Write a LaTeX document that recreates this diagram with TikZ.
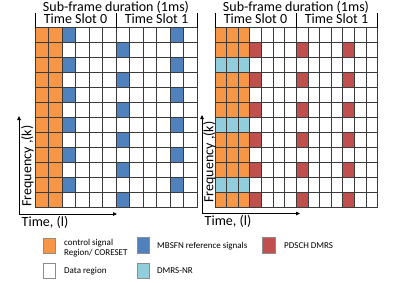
\documentclass[tikz,border=0pt]{standalone}
\usepackage{fontspec}
\setmainfont{Carlito}
\usetikzlibrary{arrows.meta}
\definecolor{corange}{HTML}{F79646}
\definecolor{cblue}{HTML}{4F81BD}
\definecolor{cred}{HTML}{C0504D}
\definecolor{clblue}{HTML}{92CDDC}
\definecolor{gridc}{HTML}{3A3A3A}
\tikzset{
  gridline/.style={draw=gridc,line width=0.7pt},
  headtxt/.style={inner sep=0pt,font=\fontsize{14}{16}\selectfont},
  axistxt/.style={inner sep=0pt,font=\fontsize{14}{16}\selectfont},
  legtxt/.style={inner sep=0pt,anchor=west,align=left,font=\fontsize{9}{10.5}\selectfont},
  legbox/.style={draw=black!45,line width=0.9pt},
  tickline/.style={draw=black,line width=0.8pt},
  axisarrow/.style={draw=black,line width=0.8pt,-{Triangle[length=4pt,width=3.5pt]}}
}
\begin{document}
\begin{tikzpicture}[x=1pt,y=-1pt]
\useasboundingbox (0,0) rectangle (407,282);
% ---------- left grid ----------
\foreach \r in {0,...,11}{
  \foreach \c in {0,1}{
    \fill[corange] (35+\c*13.5,27.5+\r*15) rectangle ++(13.5,15);
  }
}
\foreach \r in {0,2,...,10}{
  \fill[cblue] (35+2*13.5,27.5+\r*15) rectangle ++(13.5,15);
  \fill[cblue] (35+10*13.5,27.5+\r*15) rectangle ++(13.5,15);
}
\foreach \r in {1,3,...,11}{
  \fill[cblue] (35+6*13.5,27.5+\r*15) rectangle ++(13.5,15);
}
\foreach \c in {0,...,12}{
  \draw[gridline] (35+\c*13.5,27.5) -- (35+\c*13.5,207.5);
}
\foreach \r in {0,...,12}{
  \draw[gridline] (35,27.5+\r*15) -- (197,27.5+\r*15);
}
% ---------- right grid ----------
\def\cw{11.607}
\foreach \r in {0,...,11}{
  \foreach \c in {0,1,2}{
    \fill[corange] (215+\c*\cw,27.5+\r*15) rectangle ++(\cw,15);
  }
}
\foreach \r in {2,6,10}{
  \fill[clblue] (215,27.5+\r*15) rectangle ++(3*\cw,15);
}
\foreach \r in {1,3,...,11}{
  \foreach \c in {3,7,11}{
    \fill[cred] (215+\c*\cw,27.5+\r*15) rectangle ++(\cw,15);
  }
}
\foreach \c in {0,...,14}{
  \draw[gridline] (215+\c*\cw,27.5) -- (215+\c*\cw,207.5);
}
\foreach \r in {0,...,12}{
  \draw[gridline] (215,27.5+\r*15) -- (377.5,27.5+\r*15);
}
% ---------- headers ----------
\node[headtxt] (sfL) at (116,7) {Sub-frame duration (1ms)};
\node[headtxt] (ts0L) at (75.5,19) {Time Slot 0};
\node[headtxt] (ts1L) at (156.5,19) {Time Slot 1};
\node[headtxt] (sfR) at (296,7) {Sub-frame duration (1ms)};
\node[headtxt] (ts0R) at (255.5,19) {Time Slot 0};
\node[headtxt] (ts1R) at (336.5,19) {Time Slot 1};
\foreach \x in {35,116,197,215,296,377.5}{
  \draw[tickline] (\x,13) -- (\x,27.5);
}
% ---------- axes ----------
\coordinate (oL) at (19,214);
\coordinate (xL) at (117,214);
\coordinate (yL) at (19,116);
\draw[axisarrow] (oL) -- (xL);
\draw[axisarrow] (oL) -- (yL);
\node[axistxt,rotate=90] (fL) at (27.5,166) {Frequency ,(k)};
\node[axistxt] (tL) at (45,222) {Time, (l)};
\coordinate (oR) at (202,213.5);
\coordinate (xR) at (300,213.5);
\coordinate (yR) at (202,115);
\draw[axisarrow] (oR) -- (xR);
\draw[axisarrow] (oR) -- (yR);
\node[axistxt,rotate=90] (fR) at (209.5,162) {Frequency ,(k)};
\node[axistxt] (tR) at (228,221) {Time, (l)};
% ---------- legend ----------
\draw[legbox,fill=corange] (43,238) rectangle (55,253);
\node[legtxt] (l1) at (64,248) {control signal\\Region/ CORESET};
\draw[legbox,fill=white] (43,263) rectangle (55,278);
\node[legtxt] (l2) at (64,271) {Data region};
\draw[legbox,fill=cblue] (137,237.5) rectangle (149,253);
\node[legtxt] (l3) at (157,246) {MBSFN reference signals};
\draw[legbox,fill=clblue] (137,263) rectangle (149,278);
\node[legtxt] (l4) at (157,271) {DMRS-NR};
\draw[legbox,fill=cred] (262,237.5) rectangle (275,253);
\node[legtxt] (l5) at (284,246) {PDSCH DMRS};
\end{tikzpicture}
\end{document}
